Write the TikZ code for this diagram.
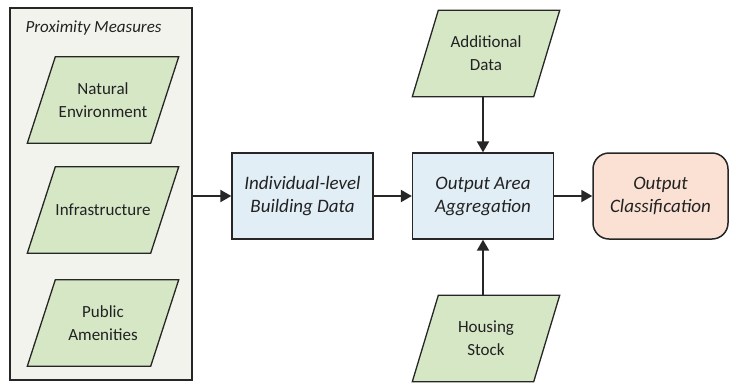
\documentclass[tikz,border=0pt]{standalone}
\usepackage{fontspec}
\setmainfont{Carlito}
\usetikzlibrary{arrows.meta,backgrounds}
\definecolor{edge}{HTML}{262626}
\definecolor{txt}{HTML}{222222}
\definecolor{groupfill}{HTML}{F3F3EE}
\definecolor{datafill}{HTML}{D6E7C6}
\definecolor{procfill}{HTML}{E1EEF6}
\definecolor{outfill}{HTML}{FAE1D3}
% slanted outline behind a data node
\newcommand{\dataframe}[2]{%
  \path[datashape] ([xshift=#2]#1.north west) -- ([xshift=#2]#1.north east)
    -- ([xshift=-#2]#1.south east) -- ([xshift=-#2]#1.south west) -- cycle;}
\begin{document}
\begin{tikzpicture}[x=1pt,y=-1pt,
  every node/.style={text=txt,font=\fontsize{17}{23}\selectfont,align=center},
  group/.style={draw=edge,line width=1.2pt,fill=groupfill},
  data/.style={rectangle,minimum width=123pt,minimum height=86pt,inner sep=0pt},
  datashape/.style={draw=edge,line width=1.3pt,fill=datafill},
  proc/.style={rectangle,draw=edge,line width=1.3pt,fill=procfill,
    minimum width=141pt,minimum height=86pt,inner sep=0pt,
    font=\fontsize{19}{23}\selectfont\itshape},
  outbox/.style={rectangle,rounded corners=16pt,draw=edge,line width=1.5pt,fill=outfill,
    minimum width=135pt,minimum height=86pt,inner sep=0pt,
    font=\fontsize{19}{23}\selectfont\itshape},
  flow/.style={draw=edge,line width=2pt,-{Triangle[length=11pt,width=12pt]}}]
\useasboundingbox (0,0) rectangle (730,384);

% proximity measures inputs
\node[data] (nat) at (103,100) {Natural\\Environment};
\node[data] (infra) at (103,210) {Infrastructure};
\node[data] (pub) at (103,323) {Public\\Amenities};
\node[font=\fontsize{17}{20}\selectfont\itshape,anchor=west] (proxlbl) at (22,28) {Proximity Measures};

% processing chain
\node[proc] (ind) at (302.5,196) {Individual-level\\Building Data};
\node[proc] (oa) at (483,196) {Output Area\\Aggregation};
\node[outbox] (cls) at (660.5,196) {Output\\Classification};

% extra inputs
\node[data,minimum width=121pt] (add) at (486,53.5) {Additional\\Data};
\node[data,minimum width=121pt] (house) at (486,338.5) {Housing\\Stock};

\begin{scope}[on background layer]
  \node[group,minimum width=182pt,minimum height=372pt,inner sep=0pt] (prox) at (101,194) {};
  \dataframe{nat}{14pt}
  \dataframe{infra}{14pt}
  \dataframe{pub}{14pt}
  \dataframe{add}{13pt}
  \dataframe{house}{13pt}
\end{scope}

\draw[flow] (prox.east |- ind.west) -- (ind.west);
\draw[flow] (ind) -- (oa);
\draw[flow] (oa) -- (cls);
\draw[flow] (add.south -| oa.north) -- (oa.north);
\draw[flow] (house.north -| oa.south) -- (oa.south);
\end{tikzpicture}
\end{document}
